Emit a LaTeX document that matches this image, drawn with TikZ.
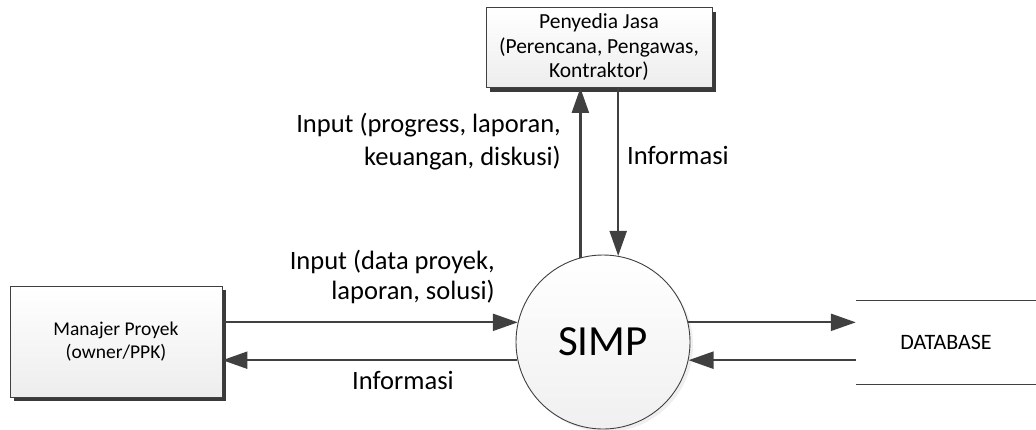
\documentclass[tikz,border=0pt]{standalone}
\usepackage{fontspec}
\setmainfont{Carlito}
\usetikzlibrary{arrows.meta,shadows,calc}
\definecolor{linec}{HTML}{404040}
\definecolor{shadowc}{HTML}{3A3A3A}
\begin{document}
\begin{tikzpicture}[x=1pt,y=-1pt,
  box/.style={draw=linec, line width=0.9pt, top color=white, bottom color=black!7,
    align=center, inner sep=0pt, font=\fontsize{19.5}{23.5}\selectfont,
    drop shadow={opacity=1, fill=shadowc, shadow xshift=4pt, shadow yshift=-4pt}},
  flow/.style={draw=linec, line width=2.3pt, -{Triangle[length=25pt,width=17pt]}},
  lbl/.style={inner sep=0pt, font=\fontsize{26.5}{33}\selectfont, align=right},
  simpnode/.style={circle, draw=linec, line width=0.9pt, top color=white, bottom color=black!6,
    minimum size=174pt, inner sep=0pt, font=\fontsize{43}{45}\selectfont,
    drop shadow={opacity=0.12, shadow xshift=3pt, shadow yshift=-3pt}},
  dbnode/.style={minimum width=180pt, minimum height=83pt, inner sep=0pt, font=\fontsize{22}{25}\selectfont}
]
\useasboundingbox (0,0) rectangle (1036,429);
\fill[white] (0,0) rectangle (1036,429);

\node[box, minimum width=226pt, minimum height=80pt, font=\fontsize{21.5}{24.5}\selectfont] (pen) at (599,47.5) {Penyedia Jasa\\(Perencana, Pengawas,\\Kontraktor)};
\node[box, minimum width=212pt, minimum height=111pt] (mgr) at (116,341.5) {Manajer Proyek\\(owner/PPK)};
\node[simpnode] (simp) at (603,342) {SIMP};
\node[dbnode] (db) at (946,342.5) {DATABASE};
\draw[linec, line width=0.9pt] (db.north west) -- (db.north east);
\draw[linec, line width=0.9pt] (db.south west) -- (db.south east);

\draw[flow] (simp.105) -- (simp.105 |- pen.south);
\draw[flow] (simp.80 |- pen.south) -- (simp.80);
\draw[flow] (simp.167 -| mgr.east) -- (simp.167);
\draw[flow] (simp.192) -- (simp.192 -| mgr.east);
\draw[flow] (simp.13) -- (simp.13 -| db.west);
\draw[flow] (simp.-12 -| db.west) -- (simp.-12);

\node[lbl, anchor=base east] (l1) at (561,165) {Input (progress, laporan,\\keuangan, diskusi)};
\node[lbl, anchor=base west] (l2) at (627,164) {Informasi};
\node[lbl, anchor=base east, font=\fontsize{26.5}{30}\selectfont] (l3) at (495,299) {Input (data proyek,\\laporan, solusi)};
\node[lbl, anchor=base west] (l4) at (352,389) {Informasi};
\end{tikzpicture}
\end{document}
